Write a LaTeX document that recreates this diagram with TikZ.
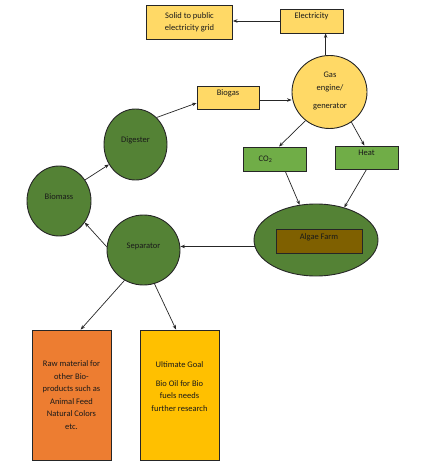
\documentclass[tikz,border=0pt]{standalone}
\usepackage{fontspec}
\setmainfont{Carlito}
\usetikzlibrary{shapes.geometric,arrows.meta}
\definecolor{ygold}{HTML}{FFD966}
\definecolor{dgreen}{HTML}{548235}
\definecolor{lgreen}{HTML}{70AD47}
\definecolor{brownbox}{HTML}{7F6000}
\definecolor{orangebox}{HTML}{ED7D31}
\definecolor{goldbox}{HTML}{FFC000}
\definecolor{edge}{HTML}{262626}
\definecolor{txt}{HTML}{1A1A1A}
\tikzset{
  fnt/.style={font=\fontsize{8.5}{12}\selectfont, text=txt},
  base/.style={draw=edge, line width=0.9pt, inner sep=0pt, align=center, fnt},
  ybox/.style={base, rectangle, fill=ygold},
  gbox/.style={base, rectangle, fill=lgreen},
  gcirc/.style={base, ellipse, fill=dgreen},
  conn/.style={draw=edge, line width=0.7pt, -{Stealth[length=4.5pt,width=3.5pt]}}
}
\begin{document}
\begin{tikzpicture}[x=1pt,y=-1pt]
\useasboundingbox (0,0) rectangle (446,462);
\node[ybox, minimum width=86pt, minimum height=34pt, font=\fontsize{8.5}{12.5}\selectfont] (solid) at (189.5,22.5) {Solid to public\\electricity grid};
\node[ybox, minimum width=63pt, minimum height=24pt] (elec) at (311.5,21) {Electricity\\[-2pt]\mbox{}};
\node[ybox, ellipse, minimum width=75pt, minimum height=73pt] (gas) at (329.5,92) {};
\node[fnt, align=center, inner sep=0pt, font=\fontsize{8.5}{13.5}\selectfont] (gast) at (330,82) {Gas\\engine/};
\node[fnt, inner sep=0pt] (gasb) at (330,107) {generator};
\node[ybox, minimum width=62pt, minimum height=23pt] (biogas) at (228,97.5) {Biogas\\[-2pt]\mbox{}};
\node[gbox, minimum width=63pt, minimum height=24pt] (co2) at (274.5,159) {\hspace*{-18pt}CO\textsubscript{2}};
\node[gbox, minimum width=63pt, minimum height=23pt] (heat) at (366.5,157.5) {Heat\\[-3pt]\mbox{}};
\node[gcirc, minimum width=63pt, minimum height=71pt] (dig) at (135.5,144.5) {Digester\\[-3pt]\mbox{}};
\node[gcirc, minimum width=64pt, minimum height=70pt] (biomass) at (59,201) {Biomass\\[-3pt]\mbox{}};
\node[gcirc, minimum width=73pt, minimum height=70pt] (sep) at (143.5,250) {Separator\\[-3pt]\mbox{}};
\node[gcirc, minimum width=124pt, minimum height=72pt] (algae) at (316,240) {};
\node[base, rectangle, fill=brownbox, minimum width=86pt, minimum height=24pt] (algaebox) at (319,241) {Algae Farm\\[-3pt]\mbox{}};
\node[base, rectangle, fill=orangebox, minimum width=79pt, minimum height=130pt, font=\fontsize{8.5}{12.5}\selectfont] (raw) at (71.5,395) {Raw material for\\other Bio-\\products such as\\Animal Feed\\Natural Colors\\etc.};
\node[base, rectangle, fill=goldbox, minimum width=79pt, minimum height=130pt, font=\fontsize{8.5}{12.5}\selectfont] (ult) at (179.5,395) {Ultimate Goal\\[6pt]Bio Oil for Bio\\fuels needs\\further research\\[4pt]\mbox{}};
% connectors
\draw[conn] (elec.west) -- (elec.west -| solid.east);
\draw[conn] (gas.96) -- (gas.96 |- elec.south);
\draw[conn] (dig.52) -- (biogas.190);
\draw[conn] ([yshift=-2.5pt]biogas.east) -- ([yshift=-2.5pt]biogas.east -| gas.west);
\draw[conn] (gas.230) -- (co2.70);
\draw[conn] (gas.306) -- (heat.100);
\draw[conn] (co2.-49) -- (algae.115);
\draw[conn] (heat.south) -- (algae.49);
\draw[conn] (algae.186) -- (algae.186 -| sep.east);
\draw[conn] (sep.175) -- (biomass.-40);
\draw[conn] (biomass.39) -- (dig.217);
\draw[conn] (sep.238) -- (raw.82);
\draw[conn] (sep.288) -- (ult.93);
\end{tikzpicture}
\end{document}
